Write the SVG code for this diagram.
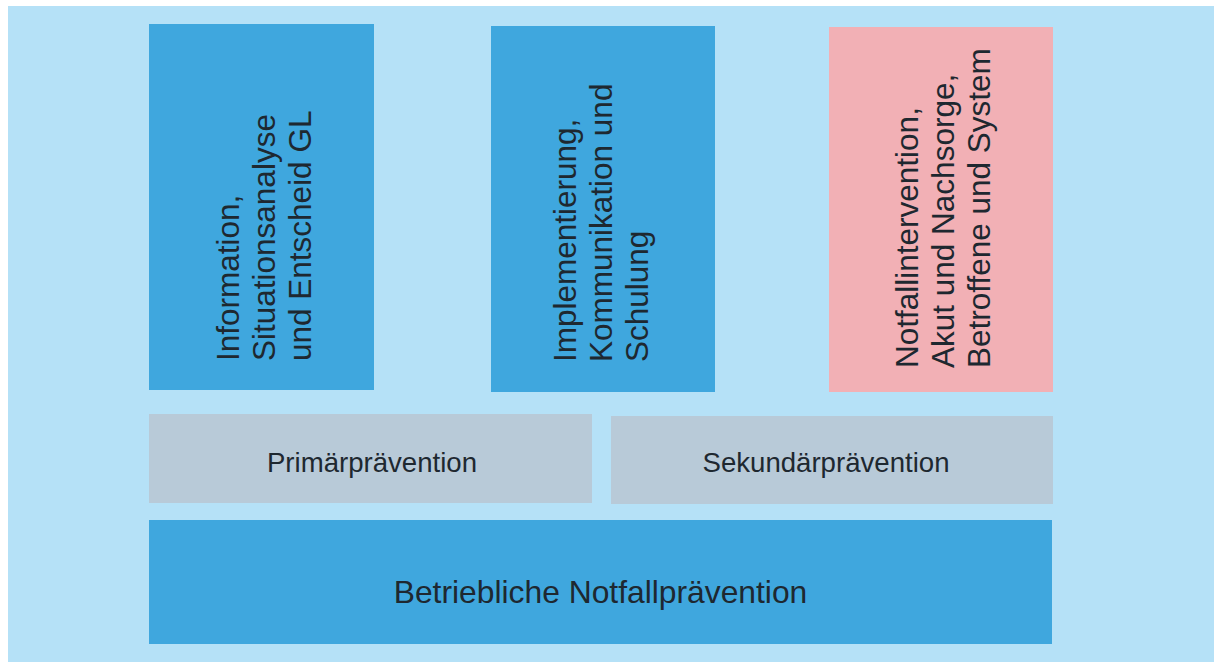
<svg xmlns="http://www.w3.org/2000/svg" width="1214" height="662" viewBox="0 0 1214 662">
<style>
.blue{fill:#3fa7de}
.pink{fill:#f2b0b5}
.gray{fill:#b8cad8}
.t{font-family:"Liberation Sans",Arial,sans-serif;fill:#1e2830}
.big{font-size:31.5px}
.mid{font-size:27.6px}
.bot{font-size:31.8px}
</style>
<rect x="0" y="0" width="1214" height="662" fill="#ffffff"/>
<rect x="8" y="6" width="1206" height="656" fill="#b5e1f7"/>
<g id="node-information">
<rect class="blue" x="149" y="24" width="225" height="366"/>
<text class="t big" transform="translate(239,361) rotate(-90)"><tspan x="0" y="0">Information,</tspan><tspan x="0" y="36">Situationsanalyse</tspan><tspan x="0" y="72">und Entscheid GL</tspan></text>
</g>
<g id="node-implementierung">
<rect class="blue" x="491" y="26" width="224" height="366"/>
<text class="t big" transform="translate(576,362) rotate(-90)"><tspan x="0" y="0">Implementierung,</tspan><tspan x="0" y="36">Kommunikation und</tspan><tspan x="0" y="72">Schulung</tspan></text>
</g>
<g id="node-notfallintervention">
<rect class="pink" x="829" y="27" width="224" height="365"/>
<text class="t big" transform="translate(918,368) rotate(-90)"><tspan x="0" y="0">Notfallintervention,</tspan><tspan x="0" y="36">Akut und Nachsorge,</tspan><tspan x="0" y="72">Betroffene und System</tspan></text>
</g>
<g id="node-primaer">
<rect class="gray" x="149" y="414" width="443" height="89"/>
<text class="t mid" x="372" y="472" text-anchor="middle">Primärprävention</text>
</g>
<g id="node-sekundaer">
<rect class="gray" x="611" y="416" width="442" height="88"/>
<text class="t mid" x="826" y="472" text-anchor="middle">Sekundärprävention</text>
</g>
<g id="node-betrieblich">
<rect class="blue" x="149" y="520" width="903" height="124"/>
<text class="t bot" x="600.5" y="603" text-anchor="middle">Betriebliche Notfallprävention</text>
</g>
<g id="connectors"></g>
</svg>
